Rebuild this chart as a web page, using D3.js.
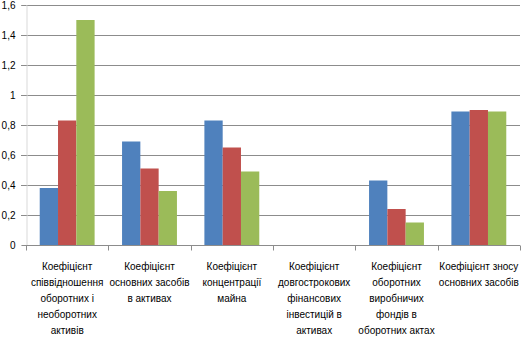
<!DOCTYPE html>
<html><head><meta charset="utf-8">
<script src="https://cdn.jsdelivr.net/npm/d3@7"></script>
<style>body{margin:0;background:#fff}svg{display:block}text{font-family:"Liberation Sans",Arial,sans-serif;fill:#000}</style>
</head><body><svg id="c" width="521" height="337"></svg>
<script>
const categories = [
  ["Коефіцієнт","співвідношення","оборотних і","необоротних","активів"],
  ["Коефіцієнт","основних засобів","в активах"],
  ["Коефіцієнт","концентрації","майна"],
  ["Коефіцієнт","довгострокових","фінансових","інвестицій в","активах"],
  ["Коефіцієнт","оборотних","виробничих","фондів в","оборотних актах"],
  ["Коефіцієнт зносу","основних засобів"]
];
const series1 = [0.38, 0.69, 0.83, 0, 0.43, 0.89];
const series2 = [0.83, 0.51, 0.65, 0, 0.24, 0.90];
const series3 = [1.50, 0.36, 0.49, 0, 0.15, 0.89];
const yTicks = [0, 0.2, 0.4, 0.6, 0.8, 1, 1.2, 1.4, 1.6];
const colors = ["#4f81bd", "#c0504d", "#9bbb59"];

(function () {
const svg = d3.select("#c");
const mL = 26, mR = 520, mT = 5, mB = 245;
const x = d3.scaleBand().domain(d3.range(categories.length)).range([mL, mR]).paddingInner(1/3).paddingOuter(1/6);
const band = d3.scaleBand().domain([0,1,2]).range([0, x.bandwidth()]);
const y = d3.scaleLinear().domain([0, 1.6]).range([mB, mT]);

svg.append("g").selectAll("line").data(yTicks.filter(d => d > 0)).join("line")
  .attr("x1", mL - 5).attr("x2", mR).attr("y1", d => Math.round(y(d)) + 0.5).attr("y2", d => Math.round(y(d)) + 0.5)
  .attr("stroke", "#8c8c8c").attr("stroke-width", 1);

const ya = svg.append("g").attr("transform", `translate(${mL + 0.5},0)`)
  .call(d3.axisLeft(y).tickValues(yTicks).tickSize(5).tickPadding(6).tickFormat(d => String(d).replace(".", ",")));
ya.select(".domain").attr("stroke", "#d9d9d9");
ya.selectAll(".tick line").attr("stroke", "#8c8c8c");
ya.selectAll("text").style("font-size", "10px").attr("fill", "#000");

const data = [series1, series2, series3];
data.forEach((s, si) => {
  svg.append("g").selectAll("rect").data(s).join("rect")
    .attr("x", (d, i) => x(i) + band(si))
    .attr("width", band.bandwidth())
    .attr("y", d => y(d))
    .attr("height", d => y(0) - y(d))
    .attr("fill", colors[si]);
});

const xa = svg.append("g").attr("transform", `translate(0,${mB + 0.5})`);
xa.append("line").attr("x1", mL).attr("x2", mR).attr("stroke", "#8c8c8c");
const step = x.step();
xa.selectAll(".tk").data(d3.range(categories.length + 1)).join("line").attr("class", "tk")
  .attr("x1", i => Math.round(mL + i * step) + 0.5).attr("x2", i => Math.round(mL + i * step) + 0.5)
  .attr("y1", 0).attr("y2", 5).attr("stroke", "#8c8c8c");

const lab = svg.append("g").selectAll("text").data(categories).join("text")
  .attr("text-anchor", "middle").style("font-size", "10px")
  .attr("transform", (d, i) => `translate(${x(i) + x.bandwidth() / 2},${mB})`);
lab.selectAll("tspan").data(d => d).join("tspan")
  .attr("x", 0).attr("y", (d, j) => 25 + j * 16).text(d => d);
})();
</script></body></html>
